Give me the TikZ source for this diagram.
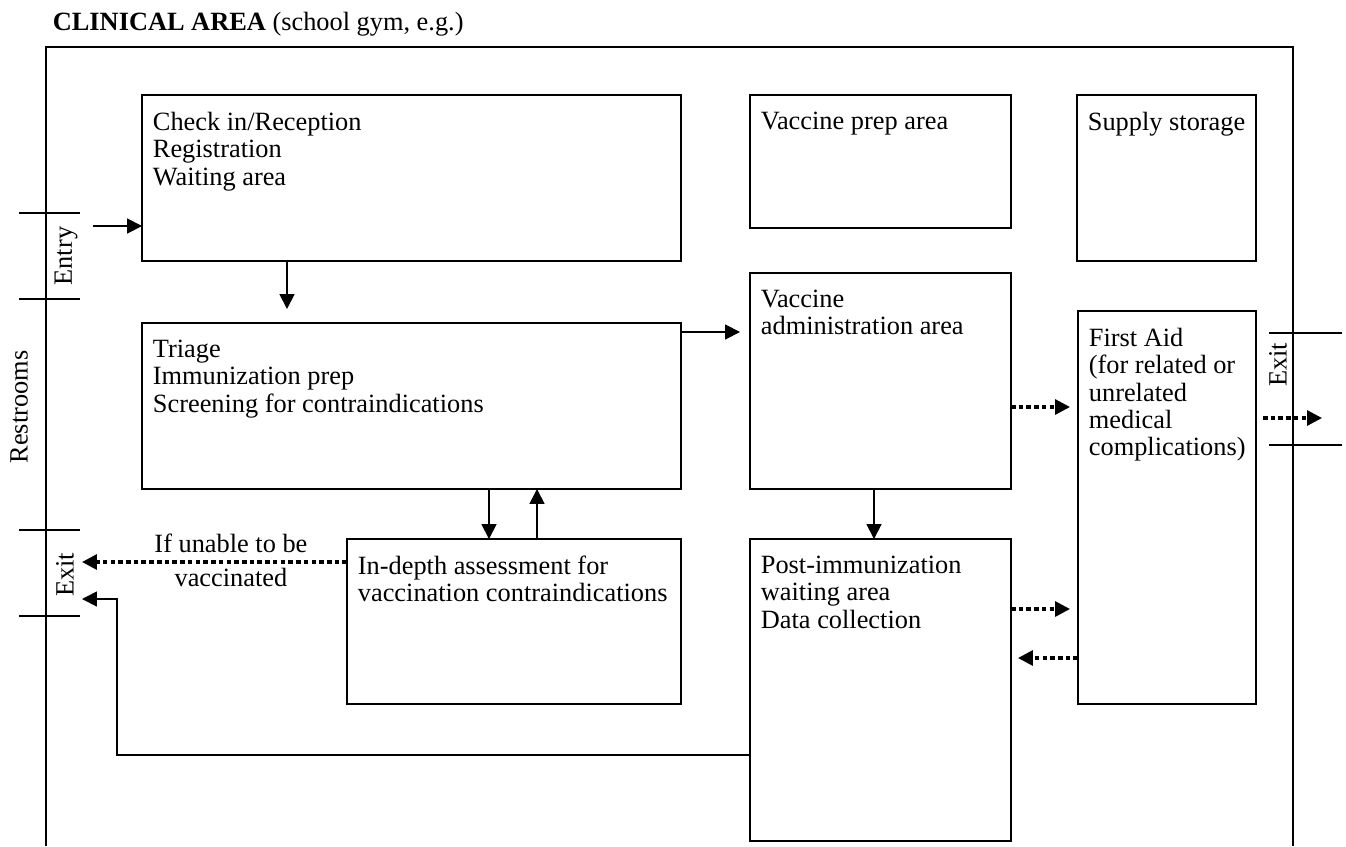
\documentclass[tikz,border=0pt]{standalone}
\usepackage{fontspec}
\setmainfont{Liberation Serif}
\usetikzlibrary{arrows.meta}

\begin{document}
\begin{tikzpicture}[x=0.02cm, y=-0.02cm, line width=1pt,
  font=\fontsize{15}{15.6}\selectfont,
  area/.style={draw, line width=1pt, inner sep=0pt, outer sep=0pt},
  txt/.style={anchor=north west, align=left, inner sep=0pt, xshift=0.2cm, yshift=-0.32cm},
  arr/.style={-{Triangle[length=8.5pt,width=8.5pt]}},
  dotarr/.style={-{Triangle[length=8.5pt,width=8.5pt]}, line width=1.8pt, dash pattern=on 2.6pt off 1.8pt}]
\useasboundingbox (0,0) rectangle (1346,846);

% title and walls of the gym
\node[anchor=base west, inner sep=0pt] (title) at (52,30) {\textbf{CLINICAL AREA} (school gym, e.g.)};
\draw (46,846) -- (46,47) -- (1293,47) -- (1293,846);

% doors
\draw (19,213) -- (80,213);
\draw (19,299) -- (80,299);
\draw (19,530) -- (80,530);
\draw (19,616) -- (80,616);
\draw (1269,333) -- (1342,333);
\draw (1269,445) -- (1342,445);
\node[rotate=90] (entry) at (66,256) {Entry};
\node[rotate=90] (exit-l) at (65,575) {Exit};
\node[rotate=90] (exit-r) at (1278,365) {Exit};
\node[rotate=90] (restrooms) at (19,407) {Restrooms};

% stations
\node[area, minimum width=10.78cm, minimum height=3.32cm] (checkin) at (411.5,178) {};
\node[area, minimum width=5.22cm, minimum height=2.66cm] (prep) at (880.5,161.5) {};
\node[area, minimum width=3.58cm, minimum height=3.32cm] (supply) at (1166.5,178) {};
\node[area, minimum width=10.78cm, minimum height=3.32cm] (triage) at (411.5,406) {};
\node[area, minimum width=5.22cm, minimum height=4.32cm] (admin) at (880.5,381) {};
\node[area, minimum width=3.56cm, minimum height=7.86cm] (firstaid) at (1167,507.5) {};
\node[area, minimum width=6.68cm, minimum height=3.30cm] (assess) at (514,621.5) {};
\node[area, minimum width=5.22cm, minimum height=6.04cm] (post) at (880.5,690) {};

\node[txt] (checkin-t) at (checkin.north west) {Check in/Reception\\Registration\\Waiting area};
\node[txt] (prep-t) at (prep.north west) {Vaccine prep area};
\node[txt] (supply-t) at (supply.north west) {Supply storage};
\node[txt] (triage-t) at (triage.north west) {Triage\\Immunization prep\\Screening for contraindications};
\node[txt] (admin-t) at (admin.north west) {Vaccine\\administration area};
\node[txt] (firstaid-t) at (firstaid.north west) {First Aid\\(for related or\\unrelated\\medical\\complications)};
\node[txt] (assess-t) at (assess.north west) {In-depth assessment for\\vaccination contraindications};
\node[txt] (post-t) at (post.north west) {Post-immunization\\waiting area\\Data collection};

% ends and turns of the routes
\coordinate (entry-in) at (93,226);
\coordinate (out-l1) at (82,562);
\coordinate (out-l2) at (82,599);
\coordinate (out-r) at (1322,418);
\coordinate (back-turn) at (117,599);
\coordinate (down1) at (287,0);
\coordinate (down2) at (489,0);
\coordinate (up2) at (537,0);
\coordinate (down3) at (874,0);
\coordinate (lvl-admin) at (0,332);
\coordinate (lvl-back) at (0,755);
\coordinate (lvl-fa1) at (0,407);
\coordinate (lvl-fa2) at (0,609);
\coordinate (lvl-fa3) at (0,658);

% patient flow
\draw[arr] (entry-in) -- (checkin.west |- entry-in);
\draw[arr, shorten >=0.28cm] (checkin.south -| down1) -- (triage.north -| down1);
\draw[arr, shorten >=0.2cm] (triage.east |- lvl-admin) -- (admin.west |- lvl-admin);
\draw[arr] (triage.south -| down2) -- (assess.north -| down2);
\draw[arr] (assess.north -| up2) -- (triage.south -| up2);
\draw[arr] (admin.south -| down3) -- (post.north -| down3);
\draw[dotarr] (assess.west |- out-l1) -- node[pos=0.438, align=center, inner sep=0pt, yshift=0.03cm] (unable) {If unable to be\\[0.14cm]vaccinated} (out-l1);
\draw[arr] (post.west |- lvl-back) -| (back-turn) -- (out-l2);
\draw[dotarr, shorten >=0.16cm] (admin.east |- lvl-fa1) -- (firstaid.west |- lvl-fa1);
\draw[dotarr, shorten >=0.16cm] (post.east |- lvl-fa2) -- (firstaid.west |- lvl-fa2);
\draw[dotarr, shorten >=0.14cm] (firstaid.west |- lvl-fa3) -- (post.east |- lvl-fa3);
\draw[dotarr, shorten <=0.14cm] (firstaid.east |- out-r) -- (out-r);
\end{tikzpicture}
\end{document}
